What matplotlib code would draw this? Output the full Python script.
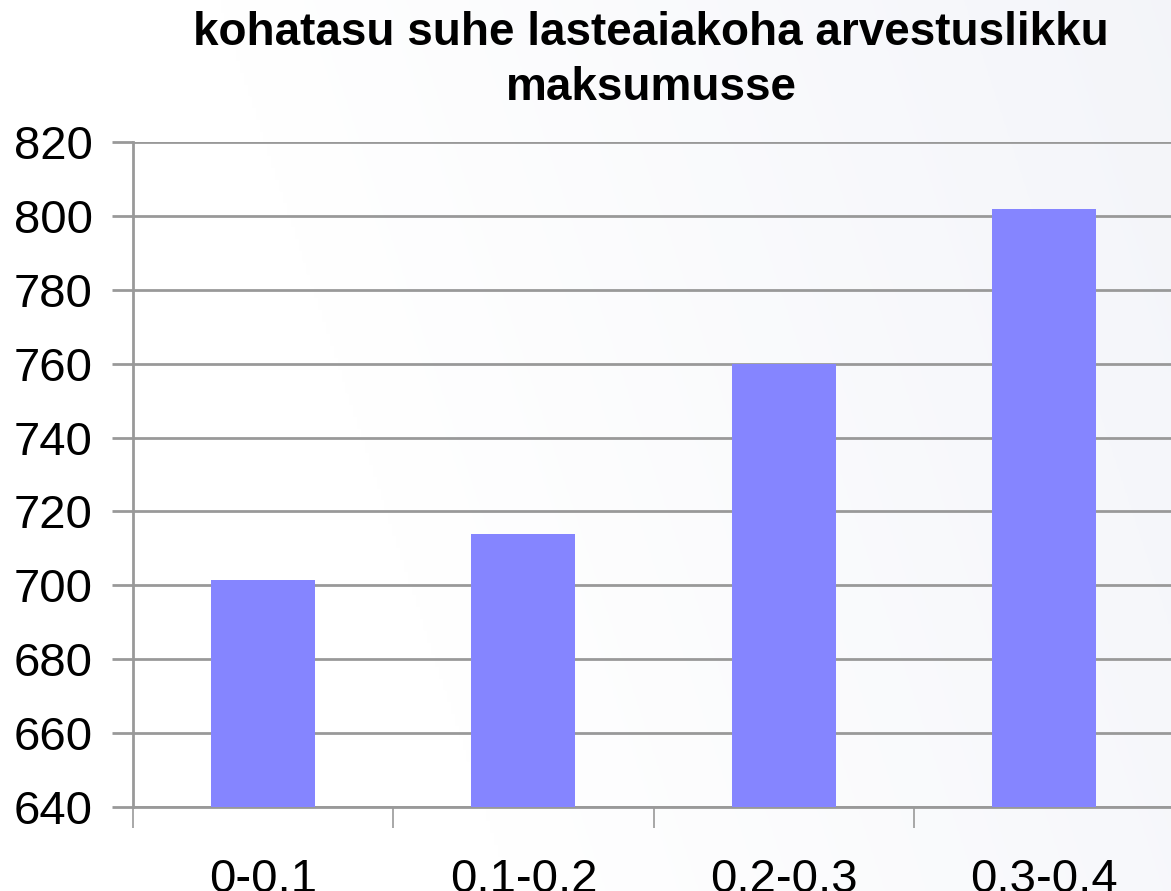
import matplotlib
matplotlib.use("Agg")
import matplotlib.pyplot as plt
import numpy as np

categories = ["0-0.1", "0.1-0.2", "0.2-0.3", "0.3-0.4"]
values = [701.5, 714, 760, 801.8]
yticks = [640, 660, 680, 700, 720, 740, 760, 780, 800, 820]
title_lines = ["kohatasu suhe lasteaiakoha arvestuslikku", "maksumusse"]

W, H = 1171, 891
fig = plt.figure(figsize=(W / 100, H / 100), dpi=100)
plt.rcParams['font.family'] = ['Liberation Sans', 'DejaVu Sans']

# background gradient
bg = fig.add_axes([0, 0, 1, 1], zorder=-10)
xx = np.linspace(0, 1, 300)
yy = np.linspace(0, 1, 300)
X, Y = np.meshgrid(xx, yy)
t = np.clip(X * 0.8 + (1 - Y) * 0.2 - 0.35, 0, 1) / 0.65
c0 = np.array([1.0, 1.0, 1.0])
c1 = np.array([0.955, 0.96, 0.978])
img = c0[None, None, :] * (1 - t[..., None]) + c1[None, None, :] * t[..., None]
bg.imshow(img, extent=[0, 1, 0, 1], aspect='auto', origin='upper')
bg.axis('off')

left = 133 / W
right = 1174 / W
bottom = 1 - 807 / H
top = 1 - 142 / H
ax = fig.add_axes([left, bottom, right - left, top - bottom])
ax.patch.set_alpha(0)

x = np.arange(len(categories))
ax.bar(x, values, width=0.4, color='#8585ff', zorder=3)
ax.set_ylim(640, 820)
ax.set_xlim(-0.5, len(categories) - 0.5)
ax.set_yticks(yticks)
ax.set_yticklabels([str(v) for v in yticks], fontsize=34)
ax.yaxis.grid(True, color='#999999', linewidth=2, zorder=1)
ax.set_axisbelow(True)

ax.set_xticks(x)
ax.set_xticklabels(categories, fontsize=34)
ax.tick_params(axis='x', which='major', length=0, pad=37)
ax.set_xticks(np.arange(-0.5, len(categories)), minor=True)
ax.tick_params(axis='x', which='minor', length=15, width=1.2, color='#999999')
ax.tick_params(axis='y', length=15, width=2, color='#999999', pad=14)

for s in ['top', 'right']:
    ax.spines[s].set_visible(False)
for s in ['left', 'bottom']:
    ax.spines[s].set_color('#999999')
    ax.spines[s].set_linewidth(2)

fig.text(651 / W, 1 - 45 / H, title_lines[0], ha='center', va='baseline',
         fontsize=33, fontweight='bold')
fig.text(651 / W, 1 - 100 / H, title_lines[1], ha='center', va='baseline',
         fontsize=33, fontweight='bold')

fig.savefig('out.png', dpi=100)
